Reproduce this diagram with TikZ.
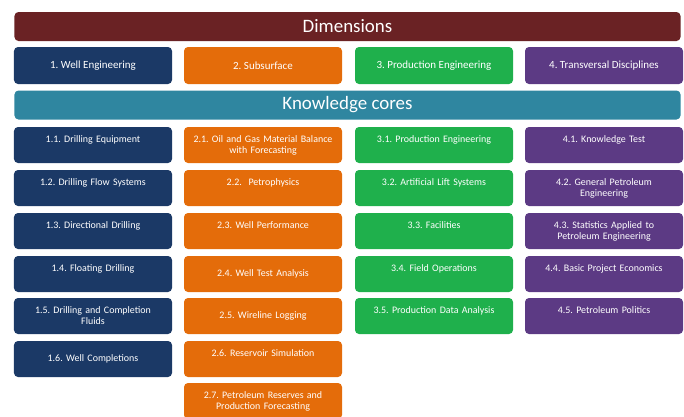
\documentclass[tikz,border=0pt]{standalone}
\usepackage{fontspec}
\setmainfont{Carlito}
\frenchspacing
\definecolor{maroon}{HTML}{6A2224}
\definecolor{tealc}{HTML}{2F86A0}
\definecolor{navy}{HTML}{1B3966}
\definecolor{orng}{HTML}{E46C0A}
\definecolor{grn}{HTML}{1FB04C}
\definecolor{purp}{HTML}{5C3A84}
\newcommand{\up}{\\[-2bp]\strut}
\tikzset{
  bar/.style={rounded corners=4bp, minimum width=666bp, minimum height=29bp, inner sep=0pt, text=white, font=\fontsize{19}{21}\selectfont},
  dimbox/.style={rounded corners=4bp, minimum width=158bp, minimum height=37bp, inner sep=0pt, text=white, align=center, font=\fontsize{11}{13}\selectfont},
  kbox/.style={rounded corners=4bp, minimum width=158bp, minimum height=36bp, inner sep=0pt, text width=152bp, text=white, align=center, font=\fontsize{10}{11}\selectfont},
}
\begin{document}
\begin{tikzpicture}[x=1bp,y=-1bp]
\useasboundingbox (0,0) rectangle (684,416);
\clip (0,0) rectangle (684,416);
\node[bar, fill=maroon] (dim) at (347.5,26.5) {Dimensions};
\node[dimbox, fill=navy] (d1) at (93,65.5) {1. Well Engineering};
\node[dimbox, fill=orng] (d2) at (263,65.5) {2. Subsurface};
\node[dimbox, fill=grn] (d3) at (434,65.5) {3. Production Engineering};
\node[dimbox, fill=purp] (d4) at (604,65.5) {4. Transversal Disciplines};
\node[bar, fill=tealc] (kc) at (347.5,105) {Knowledge cores};
% column 1
\node[kbox, fill=navy] (k11) at (93,145) {1.1. Drilling Equipment\up};
\node[kbox, fill=navy] (k12) at (93,188) {1.2. Drilling Flow Systems\up};
\node[kbox, fill=navy] (k13) at (93,231) {1.3. Directional Drilling\up};
\node[kbox, fill=navy] (k14) at (93,274) {1.4. Floating Drilling\up};
\node[kbox, fill=navy] (k15) at (93,316) {1.5. Drilling and Completion\\Fluids};
\node[kbox, fill=navy] (k16) at (93,359) {1.6. Well Completions};
% column 2
\node[kbox, fill=orng] (k21) at (263,145) {2.1. Oil and Gas Material Balance\\with Forecasting};
\node[kbox, fill=orng] (k22) at (263,188) {2.2.\ \ Petrophysics\up};
\node[kbox, fill=orng] (k23) at (263,231) {2.3. Well Performance\up};
\node[kbox, fill=orng] (k24) at (263,274) {2.4. Well Test Analysis};
\node[kbox, fill=orng] (k25) at (263,316) {2.5. Wireline Logging};
\node[kbox, fill=orng] (k26) at (263,359) {2.6. Reservoir Simulation\up};
\node[kbox, fill=orng] (k27) at (263,401) {2.7. Petroleum Reserves and\\Production Forecasting};
% column 3
\node[kbox, fill=grn] (k31) at (434,145) {3.1. Production Engineering\up};
\node[kbox, fill=grn] (k32) at (434,188) {3.2. Artificial Lift Systems\up};
\node[kbox, fill=grn] (k33) at (434,231) {3.3. Facilities\up};
\node[kbox, fill=grn] (k34) at (434,274) {3.4. Field Operations\up};
\node[kbox, fill=grn] (k35) at (434,316) {3.5. Production Data Analysis\up};
% column 4
\node[kbox, fill=purp] (k41) at (604,145) {4.1. Knowledge Test\up};
\node[kbox, fill=purp] (k42) at (604,188) {4.2. General Petroleum\\Engineering};
\node[kbox, fill=purp] (k43) at (604,231) {4.3. Statistics Applied to\\Petroleum Engineering};
\node[kbox, fill=purp] (k44) at (604,274) {4.4. Basic Project Economics\up};
\node[kbox, fill=purp] (k45) at (604,316) {4.5. Petroleum Politics\up};
\end{tikzpicture}
\end{document}
